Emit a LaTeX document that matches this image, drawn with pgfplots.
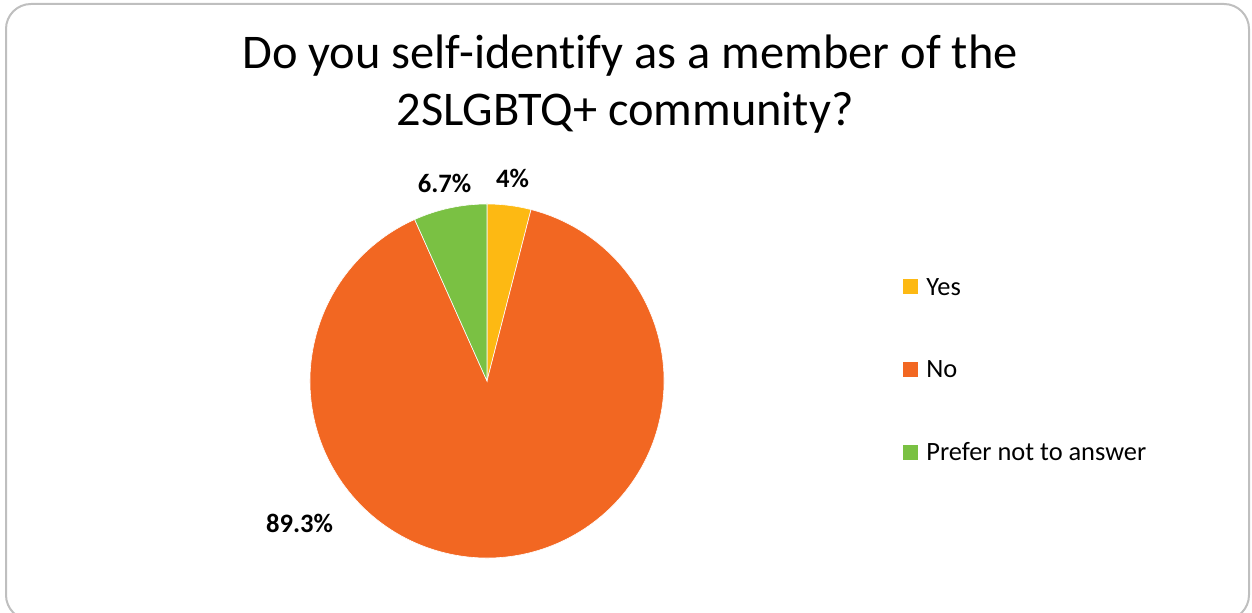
\documentclass[border=0pt]{standalone}
\usepackage{pgfplots}
\pgfplotsset{compat=1.18}
\usepackage{pgfplotstable}
\usepackage{fontspec}
\setmainfont{Carlito}[Ligatures=NoCommon]

\definecolor{yesc}{HTML}{FDB913}
\definecolor{noc}{HTML}{F26722}
\definecolor{prefc}{HTML}{7AC143}
\definecolor{framec}{HTML}{BFBFBF}

% share of answers, in per cent
\pgfplotstableread{
label  value color
Yes    4.0   yesc
No     89.3  noc
Prefer 6.7   prefc
}\piedata

\begin{document}
\begin{tikzpicture}
\pgfplotstablegetrowsof{\piedata}
\pgfmathtruncatemacro\lastrow{\pgfplotsretval-1}
\begin{axis}[
    width=626pt, height=306.5pt, scale only axis,
    xmin=0, xmax=1252, ymin=0, ymax=613,
    hide axis, clip=false,
    legend image code/.code={\fill[#1] (0pt,-2.5pt) rectangle (7.5pt,5pt);},
    legend style={
        at={(axis cs:903,334)}, anchor=north west,
        draw=none, fill=none, inner sep=0pt,
        row sep=31.3pt, column sep=4pt,
        font=\fontsize{13.2}{15}\selectfont,
        nodes={inner sep=0pt, text height=8pt, text depth=2pt},
    },
    legend cell align=left,
]
% frame
\draw[framec, line width=1pt, rounded corners=12.5pt]
    (axis cs:6,609) rectangle (axis cs:1249,-7);

% title
\node[anchor=base, font=\fontsize{24.2}{29}\selectfont]
    at (axis cs:630,544) {Do you self-identify as a member of the};
\node[anchor=base, font=\fontsize{24.2}{29}\selectfont]
    at (axis cs:625,487) {2SLGBTQ+ community?};

% pie slices, clockwise from the top
\def\cum{0}
\pgfplotsforeachungrouped \i in {0,...,\lastrow}{%
    \pgfplotstablegetelem{\i}{value}\of\piedata \let\v\pgfplotsretval
    \pgfplotstablegetelem{\i}{color}\of\piedata \let\c\pgfplotsretval
    \pgfmathsetmacro\sa{90-3.6*\cum}
    \pgfmathsetmacro\ea{90-3.6*(\cum+\v)}
    \edef\temp{\noexpand\fill[fill=\c, draw=white, line width=0.3pt]
        (axis cs:487,232) -- ++(\sa:88.5pt)
        arc[start angle=\sa, end angle=\ea, radius=88.5pt] -- cycle;}
    \temp
    \pgfmathsetmacro\cum{\cum+\v}
}

\addlegendimage{fill=yesc, draw=none}
\addlegendentry{Yes}
\addlegendimage{fill=noc, draw=none}
\addlegendentry{No}
\addlegendimage{fill=prefc, draw=none}
\addlegendentry{Prefer not to answer}

% data labels
\node[anchor=base, font=\fontsize{13.3}{15}\selectfont\bfseries] at (axis cs:512.5,425) {4\%};
\node[anchor=base, font=\fontsize{13.3}{15}\selectfont\bfseries] at (axis cs:444.5,420) {6.7\%};
\node[anchor=base, font=\fontsize{13.3}{15}\selectfont\bfseries] at (axis cs:299.5,80) {89.3\%};

\coordinate (bl) at (axis cs:0,0);
\coordinate (tr) at (axis cs:1252,613);
\end{axis}
\pgfresetboundingbox
\path[use as bounding box] (bl) rectangle (tr);
\end{tikzpicture}
\end{document}
